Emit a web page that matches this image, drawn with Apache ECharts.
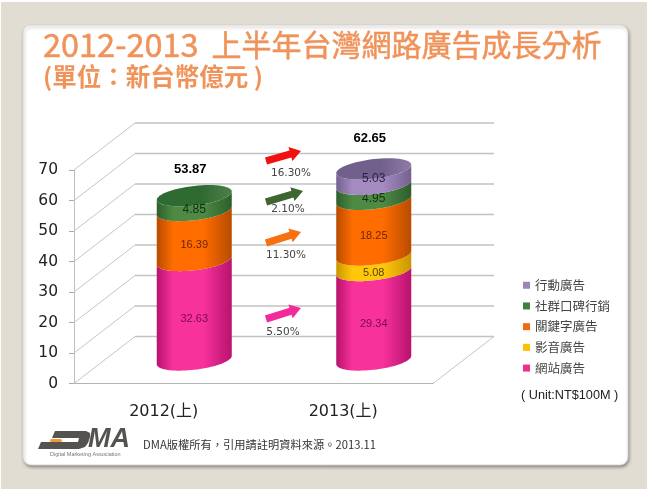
<!DOCTYPE html>
<html><head><meta charset="utf-8">
<style>html,body{margin:0;padding:0;background:#fff}#c{width:647px;height:489px}</style>
<script src="https://cdn.jsdelivr.net/npm/echarts@6/dist/echarts.min.js"></script>
</head><body><div id="c"></div>
<script>
const categories = ['2012(上)', '2013(上)'];
const yTicks = [0, 10, 20, 30, 40, 50, 60, 70];
const web = [32.63, 29.34];
const video = [null, 5.08];
const keyword = [16.39, 18.25];
const social = [4.85, 4.95];
const mobile = [null, 5.03];
const totals = [53.87, 62.65];
const growthLabels = ['16.30%', '2.10%', '11.30%', '5.50%'];
const seriesNames = ['網站廣告', '影音廣告', '關鍵字廣告', '社群口碑行銷', '行動廣告'];
const seriesValues = [web, video, keyword, social, mobile];

const FONT_CJK = '"Noto Sans CJK TC"';
const FONT_UI = '"DejaVu Sans","Noto Sans CJK TC"';
const FONT_AR = '"Liberation Sans","Noto Sans CJK TC"';

const WALL_DX = 61, WALL_DY = -47, BAR_DX = 30.5, BAR_DY = -23.5, RX = 37.5, RY = 9.8, TILT = -4.2;
const looks = [
  {legend:'#F22D90', mid:'#F8329B', edge:'#B8126E', text:'#7A0A4C', size:11},
  {legend:'#FFC000', mid:'#FFC80A', edge:'#C99600', text:'#5A4500', size:11},
  {legend:'#F26A10', mid:'#FF6C00', edge:'#B84C00', text:'#6E2600', size:11},
  {legend:'#3F7F3F', mid:'#4F8A44', edge:'#2C5E2C', text:'#123012', size:12, cap:'#2F6A32', capEdge:'#4C8148'},
  {legend:'#9E85B8', mid:'#A58BC2', edge:'#75608E', text:'#2E2044', size:12, cap:'#72608C', capEdge:'#8E7AA8'}
];
const labelNudge = [9, 10, 9, 7, 2];
const totalNudge = [-26.5, -30];

function arc(cx, cy, from, to, n) {
  const pts = [];
  for (let i = 0; i <= n; i++) {
    const t = from + (to - from) * i / n;
    pts.push([cx + RX * Math.cos(t), cy + RY * Math.sin(t) + TILT * Math.cos(t)]);
  }
  return pts;
}
function stackBelow(si, ci) {
  let s = 0;
  for (let k = 0; k < si; k++) s += seriesValues[k][ci] || 0;
  return s;
}
function isTop(si, ci) {
  for (let k = si + 1; k < seriesValues.length; k++) if (seriesValues[k][ci]) return false;
  return true;
}
function cylinderItem(si) {
  return function (params, api) {
    const ci = api.value(0), v = api.value(1);
    const base = stackBelow(si, ci);
    const p0 = api.coord([ci, base]), p1 = api.coord([ci, base + v]), pm = api.coord([ci, base + v / 2]);
    const cx = p0[0] + BAR_DX, y0 = p0[1] + BAR_DY, y1 = p1[1] + BAR_DY;
    const lk = looks[si];
    const body = arc(cx, y0, 0, Math.PI, 40).concat(arc(cx, y1, Math.PI, 0, 40));
    const kids = [{
      type: 'polygon', shape: {points: body},
      style: {fill: new echarts.graphic.LinearGradient(0, 0, 1, 0, [
        {offset: 0, color: lk.edge}, {offset: .22, color: lk.mid}, {offset: .62, color: lk.mid}, {offset: 1, color: lk.edge}])}
    }];
    if (isTop(si, ci)) kids.push({
      type: 'polygon', shape: {points: arc(cx, y1, 0, 2 * Math.PI, 60)},
      style: {fill: new echarts.graphic.LinearGradient(0, 0, 1, 0, [
        {offset: 0, color: lk.cap}, {offset: .6, color: lk.cap}, {offset: 1, color: lk.capEdge}])}
    });
    kids.push({type: 'text', style: {
      text: v.toFixed(2), x: cx, y: pm[1] + BAR_DY + labelNudge[si],
      fill: lk.text, font: lk.size + 'px ' + FONT_AR, align: 'center', verticalAlign: 'middle'}});
    return {type: 'group', children: kids};
  };
}
const barSeries = seriesNames.map((name, si) => ({
  type: 'custom', name, z: 4,
  itemStyle: {color: looks[si].legend},
  encode: {x: 0, y: 1},
  data: seriesValues[si].map((v, ci) => [ci, v]).filter(d => d[1] !== null),
  renderItem: cylinderItem(si)
}));

const wallSeries = {
  type: 'custom', z: 1, silent: true, data: yTicks.map(v => [0, v]), encode: {x: 0, y: 1},
  renderItem(params, api) {
    const cs = params.coordSys, y = api.coord([0, api.value(1)])[1], x0 = cs.x, x1 = cs.x + cs.width;
    const kids = [
      {type: 'line', shape: {x1: x0, y1: y, x2: x0 + WALL_DX, y2: y + WALL_DY}, style: {stroke: '#c6c6c6', lineWidth: 1}},
      {type: 'line', shape: {x1: x0 + WALL_DX, y1: y + WALL_DY, x2: x1 + WALL_DX, y2: y + WALL_DY}, style: {stroke: '#c2c2c2', lineWidth: 1.3}}
    ];
    if (api.value(1) === 0) kids.push({type: 'line', shape: {x1: x1, y1: y, x2: x1 + WALL_DX, y2: y + WALL_DY}, style: {stroke: '#c6c6c6', lineWidth: 1}});
    return {type: 'group', children: kids};
  }
};
const totalSeries = {
  type: 'custom', z: 5, silent: true, data: totals.map((v, i) => [i, v]), encode: {x: 0, y: 1},
  renderItem(params, api) {
    const ci = api.value(0), p = api.coord([ci, api.value(1)]);
    return {type: 'text', style: {
      text: api.value(1).toFixed(2), x: p[0] + BAR_DX - 4, y: p[1] + BAR_DY + totalNudge[ci],
      fill: '#000', font: 'bold 13px ' + FONT_AR, align: 'center', verticalAlign: 'middle'}};
  }
};

function arrow(tail, tip, color) {
  const dx = tip[0] - tail[0], dy = tip[1] - tail[1], L = Math.hypot(dx, dy);
  const ux = dx / L, uy = dy / L, nx = -uy, ny = ux, hl = 11, sw = 3.6, hw = 7.2;
  const bx = tip[0] - ux * hl, by = tip[1] - uy * hl;
  const P = (x, y, n) => [x + nx * n, y + ny * n];
  return {type: 'polygon', z: 10, shape: {points: [
    P(tail[0], tail[1], -sw), P(bx, by, -sw), P(bx, by, -hw), tip, P(bx, by, hw), P(bx, by, sw), P(tail[0], tail[1], sw)]},
    style: {fill: color}};
}
const arrowLayout = [
  {tail: [266, 161], tip: [301, 151], color: '#F01010', tx: 291, ty: 173},
  {tail: [266, 202], tip: [303, 191], color: '#3D6630', tx: 288, ty: 209},
  {tail: [266, 243], tip: [301, 232], color: '#F87010', tx: 286, ty: 255},
  {tail: [266, 319], tip: [301, 308], color: '#F52A9A', tx: 283, ty: 332}
];
const graphics = [
  {type: 'rect', z: -20, shape: {x: 1, y: 2, width: 646, height: 487}, style: {fill: '#E2DDD3'}},
  {type: 'rect', z: -10, shape: {x: 23, y: 25, width: 605, height: 440, r: 8},
    style: {fill: '#fff', stroke: '#d6d6d0', lineWidth: .8, shadowBlur: 3, shadowOffsetX: 1, shadowOffsetY: 2, shadowColor: 'rgba(70,70,70,.5)'}},
  {type: 'text', z: 10, style: {text: '( Unit:NT$100M )', x: 521, y: 395, fill: '#222', font: '12.7px ' + FONT_AR, verticalAlign: 'middle'}},
  {type: 'text', z: 10, style: {text: 'DMA版權所有，引用請註明資料來源。2013.11', x: 143, y: 445, fill: '#333', font: '11.25px ' + FONT_CJK, verticalAlign: 'middle'}},
  // DMA logo
  {type: 'polygon', z: 10, shape: {points: [[38,449],[41,442],[78,442],[79,438],[52,438],[55,431],[86,431],[90,433],[90,437],[88,443],[85,447],[79,449]]}, style: {fill: '#55534F'}},
  {type: 'rect', z: 11, shape: {x: 50, y: 439, width: 12, height: 3, r: 1.5}, style: {fill: '#EE9A3A'}},
  {type: 'text', z: 10, style: {text: 'MA', x: 88, y: 440, fill: '#55534F', font: 'italic bold 27px ' + FONT_AR, verticalAlign: 'middle'}},
  {type: 'text', z: 10, style: {text: 'Digital Marketing Association', x: 50, y: 454, fill: '#777', font: '5.5px ' + FONT_AR, verticalAlign: 'middle'}}
];
arrowLayout.forEach((a, i) => {
  graphics.push(arrow(a.tail, a.tip, a.color));
  graphics.push({type: 'text', z: 10, style: {text: growthLabels[i], x: a.tx, y: a.ty, fill: '#444', font: '10.5px ' + FONT_UI, align: 'center', verticalAlign: 'middle'}});
});

const chart = echarts.init(document.getElementById('c'), null, {renderer: 'canvas'});
chart.setOption({
  animation: false,
  backgroundColor: '#fff',
  title: [
    {text: '{a|2012-2013}{s| }{b|上半年台灣網路廣告成長分析}', left: 43, top: 28, padding: 0,
      textStyle: {fontWeight: 'normal', rich: {
        a: {color: '#F0935A', fontSize: 32.5, fontWeight: 'normal', fontFamily: FONT_CJK, textBorderColor: '#F0935A', textBorderWidth: .5},
        s: {fontSize: 32, fontFamily: FONT_CJK, width: 13},
        b: {color: '#F0935A', fontSize: 30, fontWeight: 'normal', fontFamily: FONT_CJK, textBorderColor: '#F0935A', textBorderWidth: .5}
      }}},
    {text: '(單位：新台幣億元 )', left: 43, top: 64, padding: 0,
      textStyle: {color: '#F0935A', fontSize: 24.5, fontWeight: 'bold', fontFamily: FONT_CJK}}
  ],
  legend: {
    left: 523, top: 279, orient: 'vertical', icon: 'rect', itemWidth: 7, itemHeight: 7, itemGap: 8.2, padding: 0,
    itemStyle: {borderWidth: 0},
    data: seriesNames.slice().reverse(), selectedMode: false,
    textStyle: {color: '#444', fontSize: 12.5, fontFamily: FONT_CJK}
  },
  grid: {left: 74, right: 214, top: 170, bottom: 105.5},
  xAxis: {
    type: 'category', data: categories,
    axisLine: {lineStyle: {color: '#b4b4b4'}},
    axisTick: {length: 5, lineStyle: {color: '#aaa'}},
    axisLabel: {color: '#222', fontSize: 16, fontFamily: FONT_UI, margin: 20}
  },
  yAxis: {
    type: 'value', min: 0, max: 70, interval: 10,
    axisLine: {show: true, lineStyle: {color: '#c0c0c0'}},
    axisTick: {show: true, length: 5, lineStyle: {color: '#aaa'}},
    splitLine: {show: false},
    axisLabel: {color: '#222', fontSize: 15.5, fontFamily: FONT_UI, margin: 16}
  },
  graphic: graphics,
  series: [wallSeries].concat(barSeries, [totalSeries])
});
</script></body></html>
